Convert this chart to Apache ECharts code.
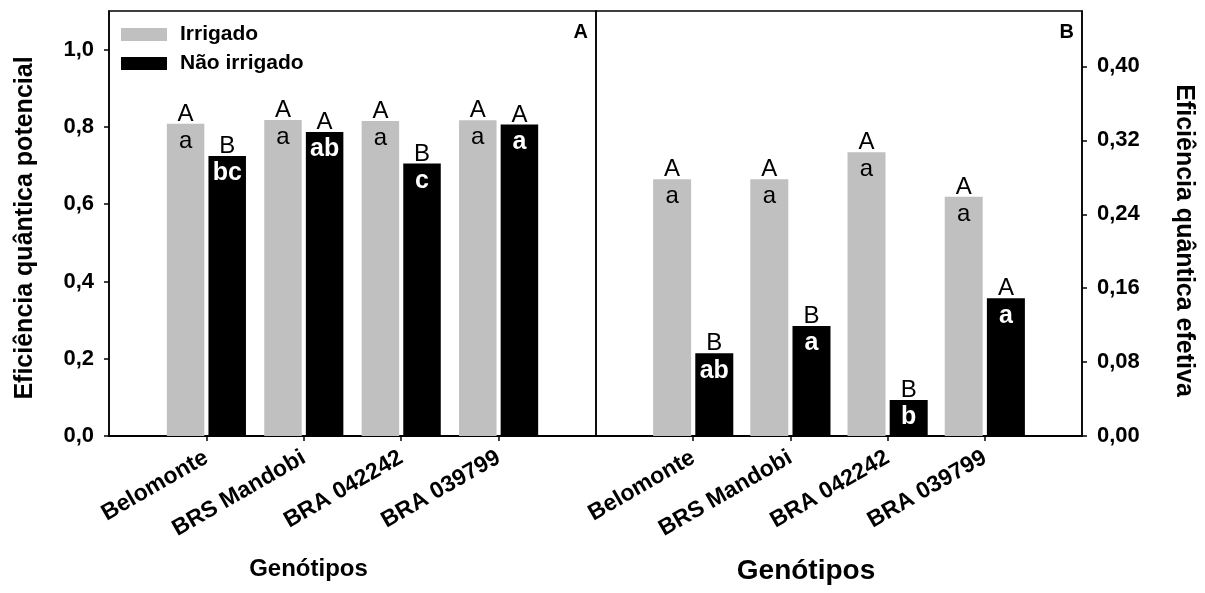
<!DOCTYPE html>
<html>
<head>
<meta charset="utf-8">
<script src="https://cdn.jsdelivr.net/npm/echarts@6/dist/echarts.min.js"></script>
<style>html,body{margin:0;padding:0;background:#fff}#c{width:1205px;height:593px}</style>
</head>
<body>
<div id="c"></div>
<script>
var categories = ['Belomonte', 'BRS Mandobi', 'BRA 042242', 'BRA 039799'];
var seriesNames = ['Irrigado', 'Não irrigado'];
// Panel A: Eficiência quântica potencial
var potIrrigado = [0.808, 0.818, 0.815, 0.817];
var potNaoIrrigado = [0.725, 0.787, 0.705, 0.806];
var potIrrUpper = ['A', 'A', 'A', 'A'];
var potIrrLower = ['a', 'a', 'a', 'a'];
var potNaoUpper = ['B', 'A', 'B', 'A'];
var potNaoLower = ['bc', 'ab', 'c', 'a'];
// Panel B: Eficiência quântica efetiva
var efeIrrigado = [0.278, 0.278, 0.307, 0.259];
var efeNaoIrrigado = [0.0895, 0.119, 0.039, 0.149];
var efeIrrUpper = ['A', 'A', 'A', 'A'];
var efeIrrLower = ['a', 'a', 'a', 'a'];
var efeNaoUpper = ['B', 'B', 'B', 'A'];
var efeNaoLower = ['ab', 'a', 'b', 'a'];
// tick labels
var potTicks = [0, 0.2, 0.4, 0.6, 0.8, 1.0];
var efeTicks = [0, 0.08, 0.16, 0.24, 0.32, 0.40];

var FONT = "'Liberation Sans', Arial, sans-serif";
var GRAY = '#c0c0c0';
var catPos = categories.map(function (c, i) { return i + 1; });

function pairs(vals) { return vals.map(function (v, i) { return [catPos[i], v]; }); }

function labelCfg(upper, lower, white) {
  return {
    show: true,
    position: 'top',
    distance: 0,
    offset: [0, 31],
    formatter: function (p) { return '{u|' + upper[p.dataIndex] + '}\n{l|' + lower[p.dataIndex] + '}'; },
    rich: {
      u: { fontFamily: FONT, fontSize: 24, color: '#000', fontWeight: 'normal', lineHeight: 27, align: 'center' },
      l: { fontFamily: FONT, fontSize: white ? 25 : 24, color: white ? '#fff' : '#000', fontWeight: white ? 'bold' : 'normal', lineHeight: 27, align: 'center' }
    }
  };
}

function xAxisCfg(gridIndex, nameSize, padRight) {
  return {
    type: 'value', gridIndex: gridIndex, min: 0, max: 5, interval: 1,
    name: 'Genótipos', nameLocation: 'middle', nameGap: 121,
    nameTextStyle: { fontFamily: FONT, fontSize: nameSize, fontWeight: 'bold', color: '#000', padding: [0, padRight, 0, 0] },
    axisLine: { show: true, onZero: false, lineStyle: { color: '#000', width: 2 } },
    axisTick: { show: true, inside: false, length: 5, customValues: catPos, lineStyle: { color: '#000', width: 1.5 } },
    axisLabel: {
      show: true, customValues: catPos, rotate: 30, margin: 20,
      fontFamily: FONT, fontSize: 23, fontWeight: 'bold', color: '#000',
      formatter: function (v) { return categories[Math.round(v) - 1] || ''; }
    },
    splitLine: { show: false }
  };
}

function yAxisCfg(gridIndex, max, pos, ticks, digits, name, rotate, gap, pad) {
  return {
    type: 'value', gridIndex: gridIndex, min: 0, max: max, position: pos,
    name: name, nameLocation: 'middle', nameGap: gap, nameRotate: rotate,
    nameTextStyle: { fontFamily: FONT, fontSize: 25, fontWeight: 'bold', color: '#000', padding: pad },
    axisLine: { show: true, onZero: false, lineStyle: { color: '#000', width: 1.5 } },
    axisTick: { show: true, inside: false, length: 5, customValues: ticks, lineStyle: { color: '#000', width: 1.5 } },
    axisLabel: { show: true, customValues: ticks, margin: 15, fontFamily: FONT, fontSize: 22, fontWeight: 'bold', color: '#000',
      formatter: function (v) { return v.toFixed(digits).replace('.', ','); } },
    splitLine: { show: false }
  };
}

var option = {
  animation: false,
  backgroundColor: '#fff',
  title: [
    { text: 'A', right: 617, top: 22, padding: 0, textStyle: { fontFamily: FONT, fontSize: 20, fontWeight: 'bold', color: '#000' } },
    { text: 'B', right: 131, top: 22, padding: 0, textStyle: { fontFamily: FONT, fontSize: 20, fontWeight: 'bold', color: '#000' } }
  ],
  legend: {
    data: seriesNames, orient: 'vertical', left: 121, top: 24, padding: 0,
    itemWidth: 46, itemHeight: 13, itemGap: 8, icon: 'rect',
    textStyle: { fontFamily: FONT, fontSize: 21, fontWeight: 'bold', color: '#000', lineHeight: 19, padding: [0, 0, 0, 8] },
    selectedMode: false
  },
  grid: [
    { left: 109, right: 609, top: 11, bottom: 157, show: true, borderColor: '#000', borderWidth: 1.5, backgroundColor: 'transparent' },
    { left: 596, right: 123, top: 11, bottom: 157, show: true, borderColor: '#000', borderWidth: 1.5, backgroundColor: 'transparent' }
  ],
  xAxis: [ xAxisCfg(0, 24, 88), xAxisCfg(1, 28, 66) ],
  yAxis: [
    yAxisCfg(0, 1.1, 'left', potTicks, 1, 'Eficiência quântica potencial', 90, 71, [0, 9, 0, 0]),
    yAxisCfg(1, 0.46, 'right', efeTicks, 2, 'Eficiência quântica efetiva', -90, 89, [0, 0, 0, 34])
  ],
  series: [
    { name: seriesNames[0], type: 'bar', xAxisIndex: 0, yAxisIndex: 0, barWidth: 37.5, barGap: '11%',
      itemStyle: { color: GRAY }, data: pairs(potIrrigado), label: labelCfg(potIrrUpper, potIrrLower, false) },
    { name: seriesNames[1], type: 'bar', xAxisIndex: 0, yAxisIndex: 0, barWidth: 37.5, barGap: '11%',
      itemStyle: { color: '#000' }, data: pairs(potNaoIrrigado), label: labelCfg(potNaoUpper, potNaoLower, true) },
    { name: seriesNames[0], type: 'bar', xAxisIndex: 1, yAxisIndex: 1, barWidth: 38, barGap: '11%',
      itemStyle: { color: GRAY }, data: pairs(efeIrrigado), label: labelCfg(efeIrrUpper, efeIrrLower, false) },
    { name: seriesNames[1], type: 'bar', xAxisIndex: 1, yAxisIndex: 1, barWidth: 38, barGap: '11%',
      itemStyle: { color: '#000' }, data: pairs(efeNaoIrrigado), label: labelCfg(efeNaoUpper, efeNaoLower, true) }
  ]
};
var chart = echarts.init(document.getElementById('c'), null, { renderer: 'canvas' });
chart.setOption(option);
</script>
</body>
</html>
